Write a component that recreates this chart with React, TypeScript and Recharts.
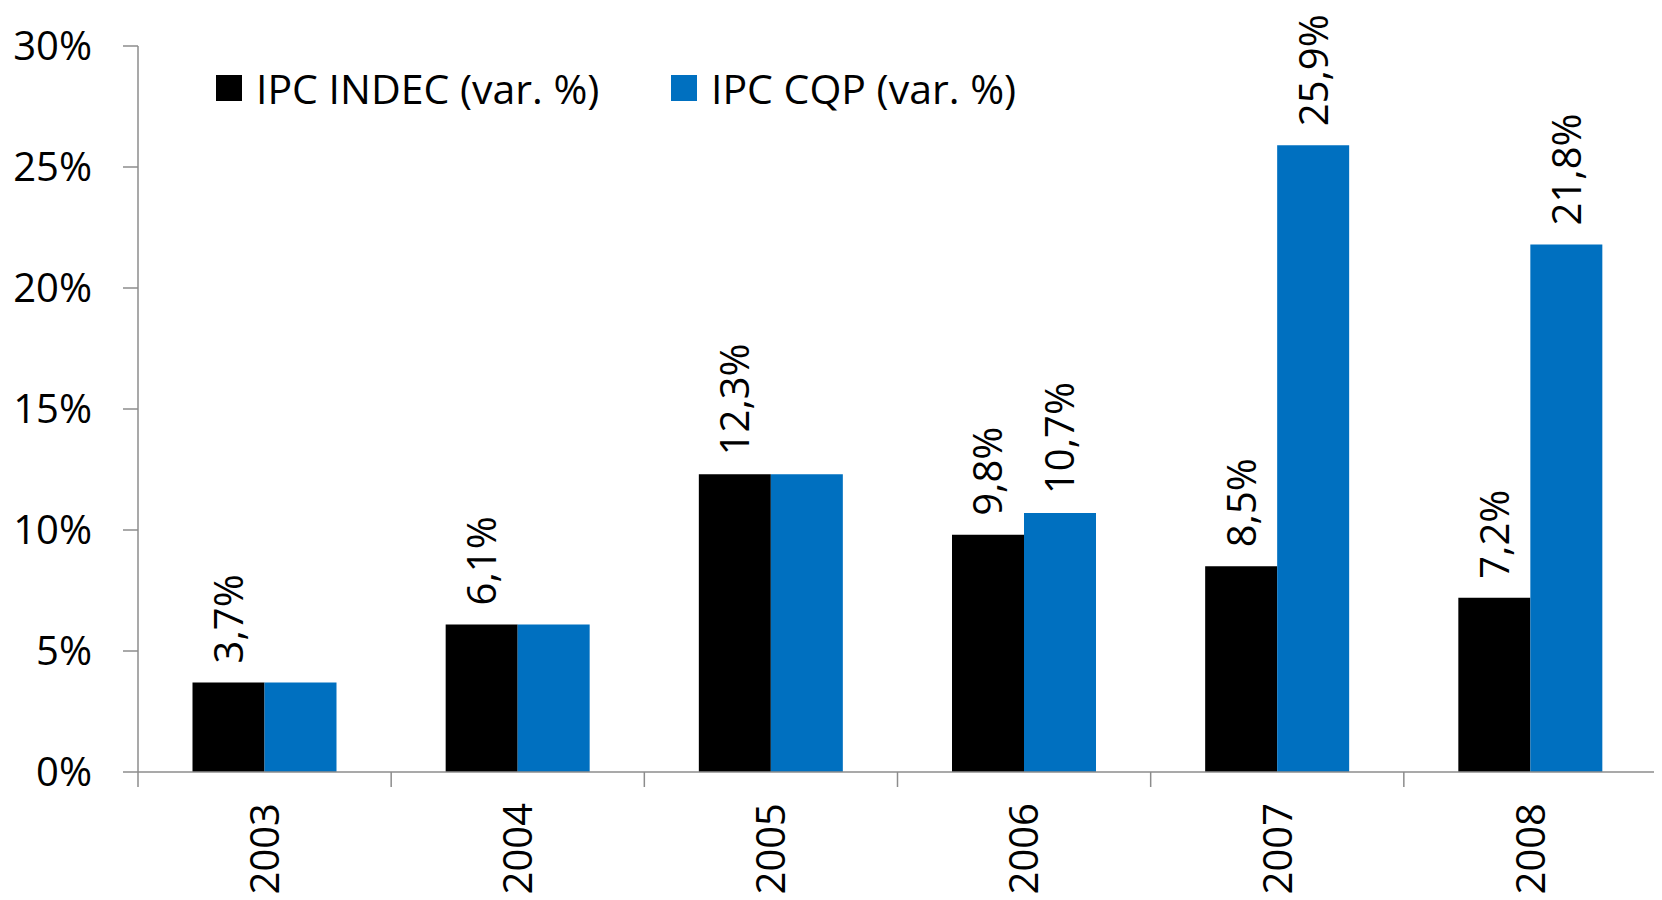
import React from 'react';
import { BarChart, Bar, XAxis, YAxis, Legend, LabelList } from 'recharts';

const years = ['2003', '2004', '2005', '2006', '2007', '2008'];
const ipcIndec = [3.7, 6.1, 12.3, 9.8, 8.5, 7.2];
const ipcCqp = [3.7, 6.1, 12.3, 10.7, 25.9, 21.8];
const yTicks = [0, 5, 10, 15, 20, 25, 30];

const data = years.map((year, i) => ({ year, indec: ipcIndec[i], cqp: ipcCqp[i] }));

const FONT = '"Open Sans", sans-serif';
const AXIS = '#8c8c8c';
const BLUE = '#0070C0';
const W = 1654;
const H = 892;
const LEFT = 130;
const RIGHT = 1649;
const BAND = (RIGHT - LEFT) / years.length;

const fmt = (v: number) => v.toFixed(1).replace('.', ',') + '%';

function YearTick(props: any) {
  const { x, y, payload, index } = props;
  const left = x - BAND / 2;
  return (
    <g>
      <line x1={left} x2={left} y1={y} y2={y + 15} stroke={AXIS} strokeWidth={1.5} />
      {index === years.length - 1 && (
        <line x1={x + BAND / 2} x2={x + BAND / 2} y1={y} y2={y + 15} stroke={AXIS} strokeWidth={1.5} />
      )}
      <text
        x={x}
        y={y + 31}
        transform={`rotate(-90, ${x}, ${y + 31})`}
        textAnchor="end"
        dy="0.36em"
        fontSize={40}
        fontFamily={FONT}
        fill="#000"
      >
        {payload.value}
      </text>
    </g>
  );
}

function makeLabel(hideSame: boolean) {
  return (props: any) => {
    const { x, y, width, value, index } = props;
    if (hideSame && ipcCqp[index] === ipcIndec[index]) return null;
    const cx = x + width / 2;
    const cy = y - 19;
    return (
      <text
        x={cx}
        y={cy}
        transform={`rotate(-90, ${cx}, ${cy})`}
        textAnchor="start"
        dy="0.36em"
        fontSize={40}
        fontFamily={FONT}
        fill="#000"
      >
        {fmt(value)}
      </text>
    );
  };
}

function LegendBox() {
  const items = [
    { label: 'IPC INDEC (var. %)', color: '#000', left: 208 },
    { label: 'IPC CQP (var. %)', color: BLUE, left: 663 },
  ];
  return (
    <div style={{ position: 'relative', width: W, height: 26 }}>
      {items.map((it) => (
        <div
          key={it.label}
          style={{
            position: 'absolute',
            left: it.left,
            top: 0,
            height: 26,
            display: 'flex',
            alignItems: 'center',
            whiteSpace: 'nowrap',
          }}
        >
          <span style={{ width: 26, height: 26, background: it.color, display: 'inline-block', marginRight: 14 }} />
          <span style={{ fontFamily: FONT, fontSize: 41, color: '#000', lineHeight: '26px' }}>{it.label}</span>
        </div>
      ))}
    </div>
  );
}

export default function App() {
  return (
    <BarChart
      width={W}
      height={H}
      data={data}
      margin={{ top: 38, right: W - RIGHT, left: 0, bottom: 0 }}
      barCategoryGap={54.5}
      barGap={0}
    >
      <XAxis
        dataKey="year"
        height={128}
        axisLine={{ stroke: AXIS, strokeWidth: 1.5 }}
        tickLine={false}
        tickSize={0}
        tickMargin={0}
        tick={<YearTick />}
        interval={0}
      />
      <YAxis
        width={LEFT}
        domain={[0, 30]}
        ticks={yTicks}
        tickFormatter={(v: number) => `${v}%`}
        axisLine={{ stroke: AXIS, strokeWidth: 1.5 }}
        tickLine={{ stroke: AXIS, strokeWidth: 1.5 }}
        tickSize={15}
        tickMargin={31}
        tick={{ fontSize: 40, fontFamily: FONT, fill: '#000' }}
      />
      <Legend
        layout="vertical"
        align="center"
        verticalAlign="middle"
        content={<LegendBox />}
        wrapperStyle={{ top: 67, left: 0, width: W }}
      />
      <Bar dataKey="indec" name="IPC INDEC (var. %)" fill="#000" isAnimationActive={false}>
        <LabelList dataKey="indec" content={makeLabel(false)} />
      </Bar>
      <Bar dataKey="cqp" name="IPC CQP (var. %)" fill={BLUE} isAnimationActive={false}>
        <LabelList dataKey="cqp" content={makeLabel(true)} />
      </Bar>
    </BarChart>
  );
}
